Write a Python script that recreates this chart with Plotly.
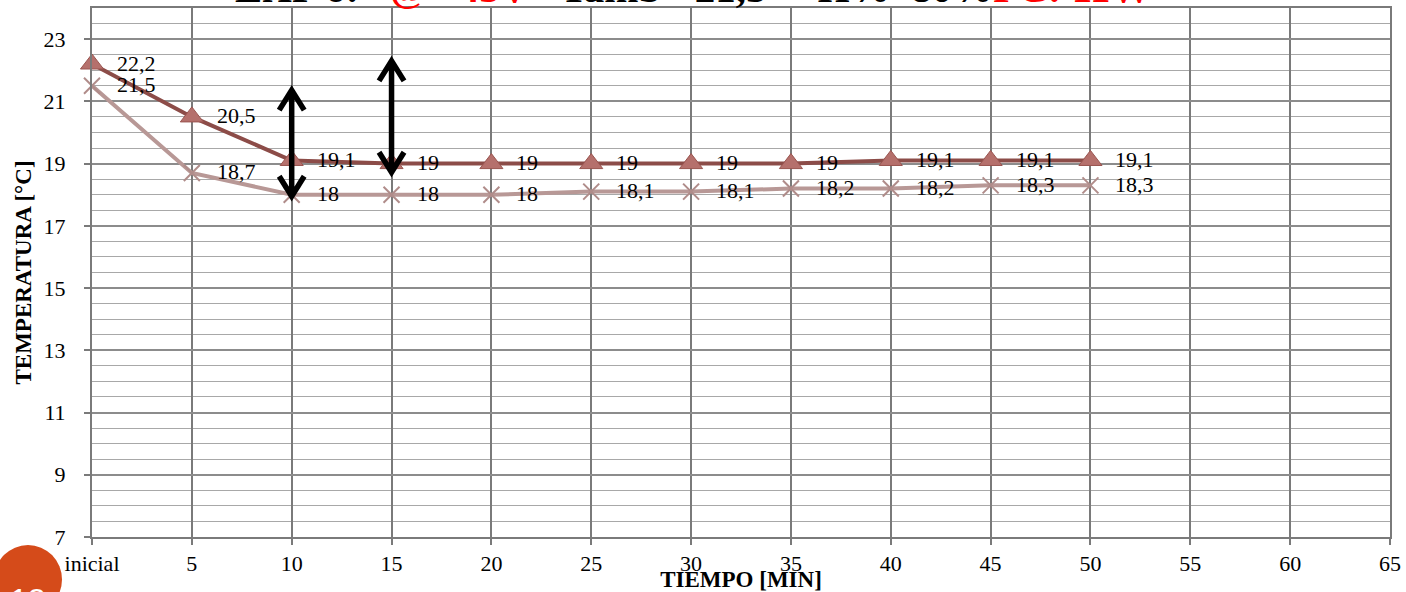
import plotly.graph_objects as go

# ---- data ----
tiempo = [0, 5, 10, 15, 20, 25, 30, 35, 40, 45, 50]
temp_a = [22.2, 20.5, 19.1, 19, 19, 19, 19, 19, 19.1, 19.1, 19.1]
temp_b = [21.5, 18.7, 18, 18, 18, 18.1, 18.1, 18.2, 18.2, 18.3, 18.3]
x_tickvals = [0, 5, 10, 15, 20, 25, 30, 35, 40, 45, 50, 55, 60, 65]
x_ticktext = ["inicial", "5", "10", "15", "20", "25", "30", "35", "40", "45", "50", "55", "60", "65"]
# double arrows: (x, y_top, y_bottom)
arrows_x = [10, 15]
arrows_top = [21.36, 22.3]
arrows_bot = [17.95, 18.72]

W, H = 1406, 592
L, R, T, B = 92, 16, 8, 55
PW, PH = W - L - R, H - T - B
X0, X1, Y0, Y1 = 0, 65, 7, 24
px_x = (X1 - X0) / PW   # data units per pixel
px_y = (Y1 - Y0) / PH

SERIF = "Liberation Serif"

def fmt(v):
    return ("%g" % v).replace(".", ",")

fig = go.Figure()

fig.add_trace(go.Scatter(
    x=tiempo, y=temp_b, mode="lines+markers",
    line=dict(color="#B89896", width=4),
    marker=dict(symbol="x-thin", size=16, line=dict(color="#B08C8A", width=2)),
    showlegend=False, cliponaxis=False,
))
fig.add_trace(go.Scatter(
    x=tiempo, y=temp_a, mode="lines+markers",
    line=dict(color="#8C4C48", width=4),
    marker=dict(symbol="triangle-up", size=20, color="#B5706C",
                line=dict(color="#9A5550", width=1)),
    showlegend=False, cliponaxis=False,
))

annotations = []
for xs, ys in ((tiempo, temp_a), (tiempo, temp_b)):
    for xv, yv in zip(xs, ys):
        annotations.append(dict(
            x=xv, y=yv, text=fmt(yv), showarrow=False, xanchor="left",
            yanchor="middle", xshift=23, yshift=1,
            font=dict(family=SERIF, size=22, color="black")))

# double-headed arrows with open chevron heads
shapes = []
hw, hh = 12.5 * px_x, 20 * px_y
for ax_, yt, yb in zip(arrows_x, arrows_top, arrows_bot):
    path = (f"M {ax_},{yt} L {ax_},{yb} "
            f"M {ax_ - hw},{yt - hh} L {ax_},{yt} L {ax_ + hw},{yt - hh} "
            f"M {ax_ - hw},{yb + hh} L {ax_},{yb} L {ax_ + hw},{yb + hh}")
    shapes.append(dict(type="path", xref="x", yref="y", path=path,
                       line=dict(color="black", width=5.5), layer="above"))

# title (mostly cut off at the top); py = pixel distance of its bottom from the top edge
title_py = 13
nb = "\u00a0"
title_txt = ("EXP 6:" + nb * 3 + "<span style='color:#FF0000'>@" + nb * 3 + "45V</span>" + nb * 3 +
             "Tamb= 21,5" + nb * 5 + "H%" + nb * 2 + "80%<span style='color:#FF0000'>FC: 11W</span>")
annotations.append(dict(
    x=(693 - L) / PW, y=(H - B - title_py) / PH, xref="paper", yref="paper",
    text="<b>" + title_txt + "</b>", showarrow=False, xanchor="center", yanchor="bottom",
    font=dict(family=SERIF, size=41, color="black")))

# slide number badge
annotations.append(dict(
    x=(28 - L) / PW, y=(H - B - 600) / PH, xref="paper", yref="paper",
    text="12", showarrow=False, xanchor="center", yanchor="middle",
    font=dict(family="Liberation Sans", size=32, color="white")))

shapes.append(dict(
    type="circle", xref="paper", yref="paper",
    x0=(-6 - L) / PW, x1=(62 - L) / PW, y0=(H - B - 614) / PH, y1=(H - B - 545) / PH,
    fillcolor="#D54B1A", line=dict(width=0), layer="above"))

fig.update_layout(
    width=W, height=H, margin=dict(l=L, r=R, t=T, b=B, autoexpand=False),
    paper_bgcolor="white", plot_bgcolor="white",
    font=dict(family=SERIF, size=22, color="black"),
    annotations=annotations, shapes=shapes,
    xaxis=dict(
        range=[X0, X1], tickmode="array", tickvals=x_tickvals, ticktext=x_ticktext,
        showgrid=True, gridcolor="#7A7A7A", gridwidth=1.5,
        showline=True, linecolor="#7A7A7A", linewidth=2, mirror=True,
        ticks="outside", ticklen=6, tickcolor="#7A7A7A", tickwidth=2,
        zeroline=False, tickfont=dict(family=SERIF, size=22),
        title=dict(text="<b>TIEMPO [MIN]</b>", font=dict(family=SERIF, size=23), standoff=0),
    ),
    yaxis=dict(
        range=[Y0, Y1], tickmode="linear", tick0=7, dtick=2,
        showgrid=True, gridcolor="#8C8C8C", gridwidth=1.5,
        minor=dict(dtick=0.5, tick0=7, showgrid=True, gridcolor="#A8A8A8", gridwidth=1.2),
        showline=True, linecolor="#7A7A7A", linewidth=2, mirror=True,
        ticks="outside", ticklen=6, tickcolor="#7A7A7A", tickwidth=2,
        ticklabelstandoff=14,
        zeroline=False, tickfont=dict(family=SERIF, size=22),
        title=dict(text="<b>TEMPERATURA [°C]</b>", font=dict(family=SERIF, size=23), standoff=6),
    ),
)

fig.write_html("out.html")
